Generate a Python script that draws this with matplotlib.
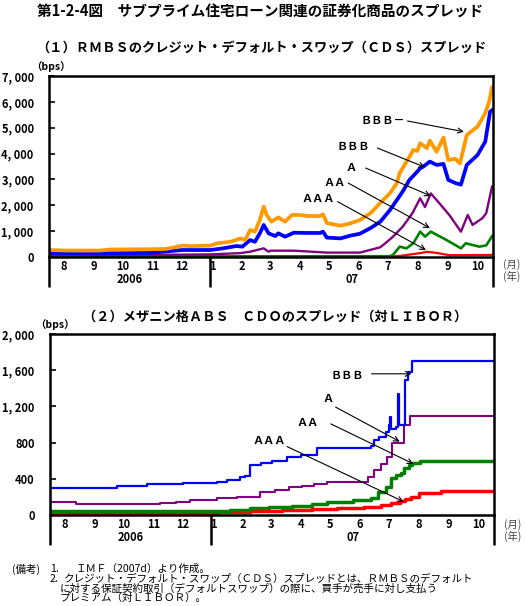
import numpy as np
import pandas as pd
import matplotlib
matplotlib.use("Agg")
import matplotlib.pyplot as plt
import matplotlib.dates as mdates
from matplotlib.transforms import blended_transform_factory

plt.rcParams['font.family'] = ['Noto Sans CJK JP', 'DejaVu Sans']

# ---------------- data: (1) RMBS CDS spreads (bps) ----------------
bbbm_dates = ["2006-07-19","2006-08-06","2006-09-09","2006-09-20","2006-10-31","2006-11-16","2006-11-26",
              "2006-12-03","2006-12-11","2006-12-22","2007-01-01","2007-01-08","2007-01-22","2007-02-01",
              "2007-02-06","2007-02-11","2007-02-16","2007-02-21","2007-02-25","2007-02-28","2007-03-05",
              "2007-03-12","2007-03-19","2007-03-26","2007-04-04","2007-04-11","2007-04-24","2007-04-27",
              "2007-05-01","2007-05-15","2007-05-25","2007-06-04","2007-06-15","2007-06-25","2007-07-05",
              "2007-07-12","2007-07-15","2007-07-23","2007-07-29","2007-08-02","2007-08-05","2007-08-12",
              "2007-08-15","2007-08-22","2007-08-29","2007-09-03","2007-09-10","2007-09-15","2007-09-22",
              "2007-10-03","2007-10-11","2007-10-15","2007-10-18"]
bbbm_vals = [270,250,250,290,300,310,380,440,420,430,440,530,590,720,660,1045,980,1430,1950,1625,1365,
             1535,1365,1625,1625,1585,1585,1650,1315,1210,1300,1430,1700,2090,2470,2860,3250,3750,4140,
             4100,4400,4210,4500,4070,4620,3750,3800,3620,4720,5040,5560,6000,6550]

bbb_dates = ["2006-07-19","2006-09-09","2006-10-31","2006-12-03","2007-01-01","2007-01-14","2007-01-28",
             "2007-02-03","2007-02-11","2007-02-16","2007-02-21","2007-02-25","2007-03-02","2007-03-09",
             "2007-03-12","2007-03-19","2007-03-28","2007-04-11","2007-04-24","2007-04-27","2007-05-01",
             "2007-05-15","2007-05-25","2007-06-04","2007-06-15","2007-06-25","2007-07-05","2007-07-12",
             "2007-07-18","2007-07-25","2007-08-02","2007-08-05","2007-08-08","2007-08-15","2007-08-22",
             "2007-08-29","2007-09-03","2007-09-11","2007-09-16","2007-09-22","2007-10-03","2007-10-11",
             "2007-10-16","2007-10-18"]
bbb_vals = [150,140,160,270,270,335,425,400,655,590,915,1240,915,810,915,785,940,930,930,980,750,720,
            825,900,1120,1365,1820,2200,2530,2980,3300,3430,3490,3690,3560,3600,2980,2850,2800,3560,
            3940,4460,5620,5680]

a_dates = ["2006-07-19","2006-10-31","2007-01-01","2007-02-01","2007-02-11","2007-02-25","2007-03-02",
           "2007-03-04","2007-03-28","2007-05-01","2007-06-04","2007-06-25","2007-07-02","2007-07-08",
           "2007-07-18","2007-07-28","2007-08-05","2007-08-10","2007-08-16","2007-08-25","2007-09-04",
           "2007-09-16","2007-09-23","2007-09-28","2007-10-08","2007-10-12","2007-10-18"]
a_vals = [80,80,100,150,205,335,205,245,245,170,170,375,590,785,1170,1690,2270,1930,2460,2070,1625,
          980,1625,1240,1500,1690,2720]

aa_dates = ["2006-07-19","2007-07-05","2007-07-08","2007-07-15","2007-07-22","2007-07-29","2007-08-05",
            "2007-08-10","2007-08-16","2007-09-01","2007-09-16","2007-09-21","2007-10-05","2007-10-12",
            "2007-10-18"]
aa_vals = [20,30,80,400,335,530,980,790,980,660,335,530,400,450,800]

aaa_dates = ["2006-07-19","2007-06-25","2007-07-15","2007-08-05","2007-08-12","2007-08-22","2007-09-04",
             "2007-10-18"]
aaa_vals = [10,10,40,150,200,160,70,80]

# ---------------- data: (2) mezzanine ABS CDO spreads (bps) ----------------
c_bbb_dates = ["2006-07-19","2006-09-26","2006-10-27","2006-12-03","2007-01-07","2007-01-17","2007-01-31",
               "2007-02-05","2007-02-10","2007-02-21","2007-03-05","2007-03-20","2007-04-03","2007-04-20",
               "2007-06-14","2007-06-17","2007-06-23","2007-06-30","2007-07-03","2007-07-04","2007-07-05",
               "2007-07-10","2007-07-12","2007-07-13","2007-07-19","2007-07-22","2007-07-27","2007-10-19"]
c_bbb_vals = [300,315,340,355,370,390,420,435,550,570,600,640,660,745,760,825,860,915,990,1085,950,
              975,1340,990,1490,1580,1700,1700]

c_a_dates = ["2006-07-19","2006-08-15","2006-11-09","2006-11-26","2006-12-10","2007-01-07","2007-01-27",
             "2007-02-10","2007-02-20","2007-03-08","2007-03-22","2007-04-04","2007-04-17","2007-04-30",
             "2007-06-11","2007-06-18","2007-06-25","2007-07-01","2007-07-06","2007-07-18","2007-07-25",
             "2007-10-19"]
c_a_vals = [148,125,130,148,167,185,196,204,259,278,304,322,338,363,419,493,567,640,800,990,1095,1095]

c_aa_dates = ["2006-07-19","2007-01-07","2007-01-20","2007-02-10","2007-03-01","2007-03-25","2007-04-15",
              "2007-04-30","2007-05-27","2007-06-14","2007-06-22","2007-06-30","2007-07-05","2007-07-10",
              "2007-07-15","2007-07-18","2007-07-24","2007-07-27","2007-08-04","2007-10-19"]
c_aa_vals = [48,48,60,74,85,100,125,147,167,185,250,313,406,440,461,517,553,572,595,595]

c_aaa_dates = ["2006-07-19","2006-12-01","2007-01-07","2007-02-10","2007-03-15","2007-04-15","2007-05-10",
               "2007-06-07","2007-06-25","2007-07-05","2007-07-14","2007-07-19","2007-07-26","2007-08-03",
               "2007-08-25","2007-10-19"]
c_aaa_vals = [18,22,30,40,50,65,75,85,110,130,150,175,203,240,269,269]

# labels / ticks
top_yticks = [0, 1000, 2000, 3000, 4000, 5000, 6000, 7000]
bot_yticks = [0, 400, 800, 1200, 1600, 2000]
month_starts = ["2006-08-01","2006-09-01","2006-10-01","2006-11-01","2006-12-01","2007-01-01",
                "2007-02-01","2007-03-01","2007-04-01","2007-05-01","2007-06-01","2007-07-01",
                "2007-08-01","2007-09-01","2007-10-01"]
month_labels = ["8","9","10","11","12","1","2","3","4","5","6","7","8","9","10"]
year_labels = ["2006", "07"]

# annotations
top_labels = ["ＢＢＢ－", "ＢＢＢ", "Ａ", "ＡＡ", "ＡＡＡ"]
top_text_x = ["2007-07-20", "2007-06-14", "2007-06-01", "2007-05-20", "2007-05-09"]
top_text_y = [5260, 4290, 3480, 2900, 2280]
top_arr_x0 = ["2007-07-23", "2007-06-22", "2007-06-10", "2007-05-23", "2007-05-12"]
top_arr_y0 = [5260, 4215, 3440, 2860, 2140]
top_arr_x1 = ["2007-09-19", "2007-08-10", "2007-08-16", "2007-08-15", "2007-08-11"]
top_arr_y1 = [4845, 3470, 2360, 1120, 270]

bot_labels = ["ＢＢＢ", "Ａ", "ＡＡ", "ＡＡＡ"]
bot_text_x = ["2007-06-07", "2007-05-07", "2007-04-22", "2007-03-19"]
bot_text_y = [1540, 1284, 1022, 822]
bot_arr_x0 = ["2007-06-15", "2007-05-09", "2007-05-04", "2007-03-20"]
bot_arr_y0 = [1560, 1192, 1007, 756]
bot_arr_x1 = ["2007-07-26", "2007-07-14", "2007-07-28", "2007-07-18"]
bot_arr_y1 = [1560, 811, 565, 147]

XMIN, XMAX = pd.Timestamp("2006-07-19"), pd.Timestamp("2007-10-19")
BOUNDARY = pd.Timestamp("2007-01-01")

ORANGE, BLUE, PURPLE, GREEN, RED = "#FF9900", "#0000FF", "#800080", "#008000", "#FF0000"

fig = plt.figure(figsize=(5.25, 6.06), dpi=100)

def D(lst):
    return pd.to_datetime(lst)

def style_axes(ax, yticks, ymax, m_y, yr_y, ext, mon_y, nen_y):
    ax.set_xlim(XMIN, XMAX)
    ax.set_ylim(0, ymax)
    for s in ax.spines.values():
        s.set_linewidth(1.8)
        s.set_color("black")
    ax.set_yticks(yticks)
    ax.set_yticklabels([f"{v:,}".replace(",", ", ") for v in yticks], fontsize=8, fontweight="bold")
    ax.tick_params(axis="y", direction="in", length=4, width=1.2, pad=11)
    ax.set_xticks([])
    tr = blended_transform_factory(ax.transData, ax.transAxes)
    for d, lab in zip(month_starts, month_labels):
        ax.text(pd.Timestamp(d) + pd.Timedelta(days=2), m_y, lab, transform=tr,
                ha="center", va="center", fontsize=8, fontweight="bold")
    mid1 = XMIN + (BOUNDARY - XMIN) / 2
    mid2 = BOUNDARY + (XMAX - BOUNDARY) / 2
    ax.text(mid1, yr_y, year_labels[0], transform=tr, ha="center", va="center", fontsize=8, fontweight="bold")
    ax.text(mid2, yr_y, year_labels[1], transform=tr, ha="center", va="center", fontsize=8, fontweight="bold")
    for x in [XMIN, BOUNDARY, XMAX]:
        ax.plot([x, x], [0, -ext], transform=tr, color="black", lw=1.8, clip_on=False,
                solid_capstyle="butt")
    ax.text(1.023, mon_y, "(月)", transform=ax.transAxes, ha="left", va="center",
            fontsize=7.5, color="#444444")
    ax.text(1.023, nen_y, "(年)", transform=ax.transAxes, ha="left", va="center",
            fontsize=7.5, color="#444444")

def annotate(ax, labels, tx, ty, x0, y0, x1, y1):
    for lab, a, b, c, d, e, f in zip(labels, tx, ty, x0, y0, x1, y1):
        ax.text(pd.Timestamp(a), b, lab, ha="right", va="center", fontsize=8, fontweight="bold")
        ax.annotate("", xy=(pd.Timestamp(e), f), xytext=(pd.Timestamp(c), d),
                    arrowprops=dict(arrowstyle="->", color="black", lw=0.8,
                                    shrinkA=0, shrinkB=0, mutation_scale=9))

# ---------------- top chart ----------------
ax1 = fig.add_axes([49/525, 1 - 257/606, (493-49)/525, (257-76)/606])
ax1.plot(D(aaa_dates), aaa_vals, color=RED, lw=1.6)
ax1.plot(D(aa_dates), aa_vals, color=GREEN, lw=1.9)
ax1.plot(D(a_dates), a_vals, color=PURPLE, lw=1.7)
ax1.plot(D(bbb_dates), bbb_vals, color=BLUE, lw=2.7)
ax1.plot(D(bbbm_dates), bbbm_vals, color=ORANGE, lw=2.7)
style_axes(ax1, top_yticks, 7000, -0.05, -0.127, 0.168, -0.039, -0.105)
annotate(ax1, top_labels, top_text_x, top_text_y, top_arr_x0, top_arr_y0, top_arr_x1, top_arr_y1)
fig.text(51/525, 1 - 67/606, "（bps）", ha="center", va="center", fontsize=7.5, fontweight="bold")

# ---------------- bottom chart ----------------
ax2 = fig.add_axes([50/525, 1 - 515/606, (494-50)/525, (515-334)/606])
ax2.plot(D(c_aaa_dates), c_aaa_vals, color=RED, lw=2.5, drawstyle="steps-post")
ax2.plot(D(c_aa_dates), c_aa_vals, color=GREEN, lw=2.5, drawstyle="steps-post")
ax2.plot(D(c_a_dates), c_a_vals, color=PURPLE, lw=1.5, drawstyle="steps-post")
ax2.plot(D(c_bbb_dates), c_bbb_vals, color=BLUE, lw=1.6, drawstyle="steps-post")
style_axes(ax2, bot_yticks, 2000, -0.055, -0.127, 0.166, -0.055, -0.12)
annotate(ax2, bot_labels, bot_text_x, bot_text_y, bot_arr_x0, bot_arr_y0, bot_arr_x1, bot_arr_y1)
fig.text(55/525, 1 - 325/606, "（bps）", ha="center", va="center", fontsize=7.5, fontweight="bold")

# ---------------- titles ----------------
fig.text(260/525, 1 - 12/606, "第1-2-4図　サブプライム住宅ローン関連の証券化商品のスプレッド",
         ha="center", va="center", fontsize=10.5, fontweight="bold")
fig.text(261/525, 1 - 48/606, "（１）ＲＭＢＳのクレジット・デフォルト・スワップ（ＣＤＳ）スプレッド",
         ha="center", va="center", fontsize=9.5, fontweight="bold")
fig.text(275/525, 1 - 317/606, "（２）メザニン格ＡＢＳ　ＣＤＯのスプレッド（対ＬＩＢＯＲ）",
         ha="center", va="center", fontsize=9.5, fontweight="bold")

# ---------------- notes ----------------
nfs = 7.6
fig.text(12/525, 1 - 569/606, "(備考)", ha="left", va="center", fontsize=nfs)
fig.text(50/525, 1 - 569/606, "1.", ha="left", va="center", fontsize=nfs)
fig.text(75/525, 1 - 569/606, "ＩＭＦ（2007d）より作成。", ha="left", va="center", fontsize=nfs)
fig.text(50/525, 1 - 579/606, "2.", ha="left", va="center", fontsize=nfs)
fig.text(64/525, 1 - 579/606, "クレジット・デフォルト・スワップ（ＣＤＳ）スプレッドとは、ＲＭＢＳのデフォルト",
         ha="left", va="center", fontsize=nfs)
fig.text(60/525, 1 - 589/606, "に対する保証契約取引（デフォルトスワップ）の際に、買手が売手に対し支払う",
         ha="left", va="center", fontsize=nfs)
fig.text(60/525, 1 - 598/606, "プレミアム（対ＬＩＢＯＲ）。", ha="left", va="center", fontsize=nfs)

fig.savefig("out.png", dpi=100)
